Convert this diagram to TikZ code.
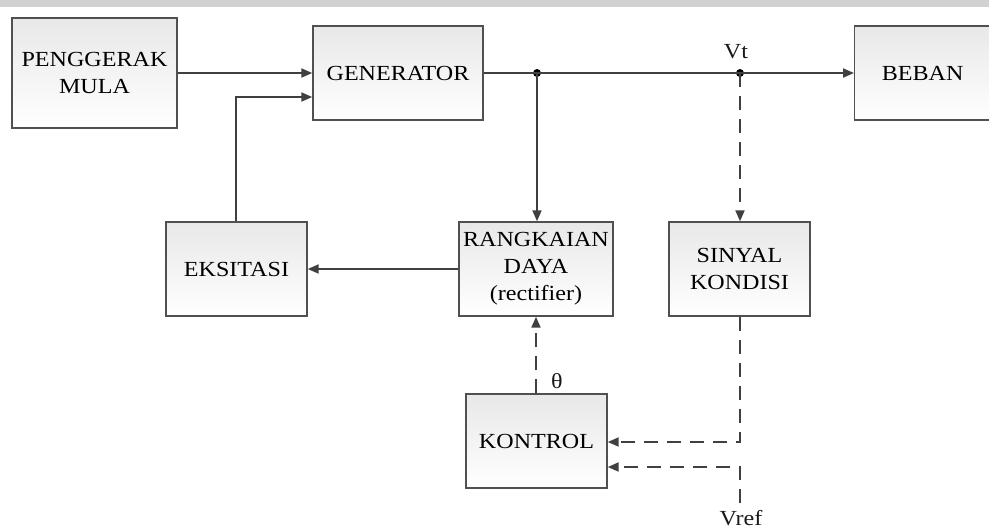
\documentclass[tikz,border=0pt]{standalone}
\usepackage{fontspec}
\setmainfont{Liberation Serif}[FakeStretch=1.12]
\usetikzlibrary{arrows.meta}
\definecolor{lc}{HTML}{404040}
\definecolor{bc}{HTML}{505050}
\tikzset{
  blk/.style={draw=bc, line width=1.4pt, top color=black!9, bottom color=white, align=center, inner sep=0pt, font=\fontsize{21.5}{27}\selectfont},
  con/.style={draw=lc, line width=2pt, -{Triangle[length=11pt,width=9pt]}},
  dcon/.style={con, dash pattern=on 14pt off 9pt},
  lbl/.style={font=\fontsize{21.5}{27}\selectfont, text=black!90, inner sep=0pt},
  dot/.style={circle, fill=black, inner sep=0pt, minimum size=8pt}
}
\begin{document}
\begin{tikzpicture}[x=1pt,y=-1pt]
\useasboundingbox (0,0) rectangle (989,531);
\fill[black!18] (0,0) rectangle (989,7);
% blocks
\node[blk, minimum width=165pt, minimum height=110pt] (pm) at (94.5,73) {PENGGERAK\\MULA};
\node[blk, minimum width=170pt, minimum height=94pt] (gen) at (398,73) {GENERATOR};
\node[blk, minimum width=136pt, minimum height=94pt, anchor=west] (beb) at (854,73) {BEBAN};
\node[blk, minimum width=141pt, minimum height=94pt] (eks) at (236.5,269) {EKSITASI};
\node[blk, minimum width=154pt, minimum height=94pt] (rd) at (536,269) {RANGKAIAN\\DAYA\\(rectifier)};
\node[blk, minimum width=141pt, minimum height=94pt] (sk) at (739.5,269) {SINYAL\\KONDISI};
\node[blk, minimum width=141pt, minimum height=94pt] (kon) at (536.5,441) {KONTROL};
% junctions
\node[dot] (j1) at (537,73) {};
\node[dot] (j2) at (740,73) {};
\coordinate (e1) at (236,97);
\coordinate (c1) at (740,442);
\coordinate (v1) at (740,503);
\coordinate (v2) at (740,467);
% labels
\node[lbl] (vt) at (736,52) {Vt};
\node[lbl] (th) at (557,381) {θ};
\node[lbl] (vref) at (741,518) {Vref};
% connectors
\draw[con] (pm.east) -- (gen.west);
\draw[con] (eks.north -| e1) -- (e1) -- (e1 -| gen.west);
\draw[con, -] (gen.east) -- (j1.center) -- (j2.center);
\draw[con] (j2.center) -- (beb.west);
\draw[con] (j1.center) -- (rd.north -| j1);
\draw[con] (rd.west) -- (eks.east);
\draw[dcon] (j2.center) -- (sk.north -| j2);
\draw[dcon] (kon.north -| 536,0) -- (rd.south -| 536,0);
\draw[dcon] (sk.south -| c1) -- (c1) -- (c1 -| kon.east);
\draw[dcon] (v1) -- (v2) -- (v2 -| kon.east);
\end{tikzpicture}
\end{document}
